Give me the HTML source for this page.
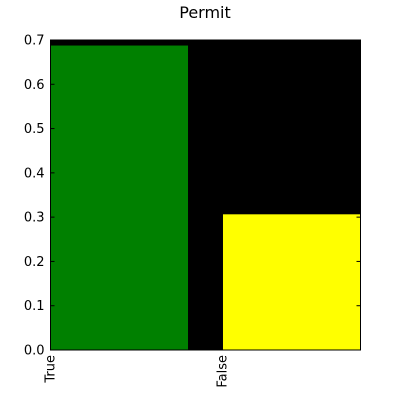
<!DOCTYPE html>
<html><head><style>body{margin:0;background:#fff}svg{display:block;font-family:"DejaVu Sans","Liberation Sans",sans-serif}</style></head>
<body>
<svg id="c" width="400" height="400"></svg>
<script>
const categories=["True","False"];
const values=[0.688,0.307];
const colors=["#008000","#ffff00"];
const yTicks=[0,0.1,0.2,0.3,0.4,0.5,0.6,0.7];
const yTickLabels=["0.0","0.1","0.2","0.3","0.4","0.5","0.6","0.7"];
const L=50.5,R=360.5,T=40,B=350,XMAX=1.8,YMAX=0.7,W=0.8;
const sx=v=>L+v/XMAX*(R-L), sy=v=>B-v/YMAX*(B-T);
const s=document.getElementById('c'),NS="http://www.w3.org/2000/svg";
function mk(t,a,p){const e=document.createElementNS(NS,t);for(const k in a)e.setAttribute(k,a[k]);(p||s).appendChild(e);return e;}
let bg=mk('rect',{x:L,y:T,width:R-L,height:B-T,fill:'#000'});


categories.forEach((c,i)=>{
 let r=mk('rect',{x:sx(i),y:sy(values[i]),width:sx(i+W)-sx(i),height:B-sy(values[i]),fill:colors[i],stroke:'#000','stroke-width':0.5});
 
 
 let x=sx(i);
 let t=mk('text',{x:0,y:0,transform:`translate(${x+4},${B+5}) rotate(-90)`,'text-anchor':'end','font-size':13,fill:'#000'});
 t.textContent=c;
 
 
});
yTicks.forEach((v,i)=>{
 const y=sy(v);
 mk('line',{x1:L,x2:L+4,y1:y,y2:y,stroke:'#000'});
 mk('line',{x1:R-4,x2:R,y1:y,y2:y,stroke:'#000'});
 let t=mk('text',{x:L-6,y:y+4.5,'text-anchor':'end','font-size':13,fill:'#000'});
 t.textContent=yTickLabels[i];
 
 
});
let f=mk('rect',{x:L,y:T,width:R-L,height:B-T,fill:'none',stroke:'#000','stroke-width':1});


let ti=mk('text',{x:205,y:18,'text-anchor':'middle','font-size':16,fill:'#000'});
ti.textContent='Permit';


</script>
</body></html>
